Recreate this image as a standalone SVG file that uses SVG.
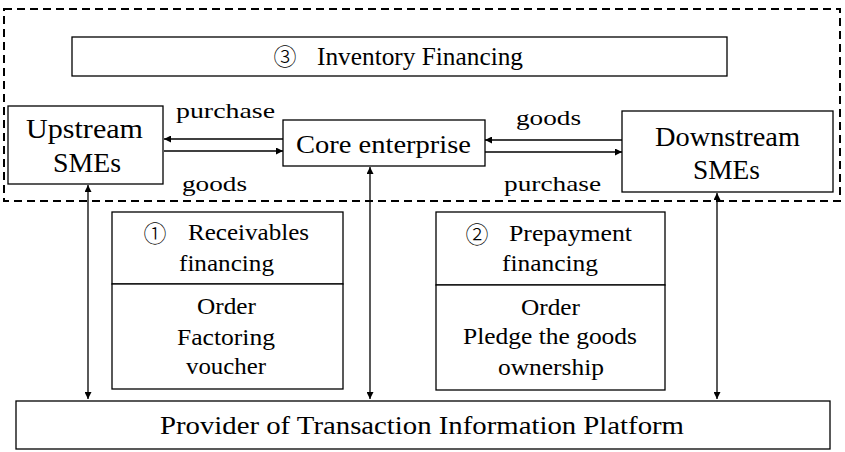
<svg xmlns="http://www.w3.org/2000/svg" width="845" height="452" viewBox="0 0 845 452" font-family="'Liberation Serif', 'Times New Roman', serif">
<style>
rect{fill:#fff;stroke:#000;stroke-width:1.3}
text{font-family:'Liberation Serif','Times New Roman',serif;font-size:26px;fill:#000}
text.s{font-size:23px}
text.l{font-size:22px}
text.big{font-size:27px}
text.num{font-family:'DejaVu Sans','Noto Sans CJK SC',sans-serif;font-size:23px;font-weight:300;text-anchor:middle}
line{stroke:#000;stroke-width:1.3}
</style>
<defs>
<marker id="ah" viewBox="0 0 10 10" refX="10" refY="5" markerWidth="9" markerHeight="7" markerUnits="userSpaceOnUse" orient="auto-start-reverse">
<path d="M0,0 L10,5 L0,10 z" fill="#000"/>
</marker>
</defs>
<rect x="0" y="0" width="845" height="452" style="stroke:none"/>
<rect id="dashbox" x="4" y="9" width="836" height="192" style="fill:none;stroke-width:2;stroke-dasharray:8,5"/>
<g id="inventory">
<rect x="72" y="37" width="655" height="39"/>
<text class="num" x="285" y="65">③</text>
<text x="317" y="65" textLength="206" lengthAdjust="spacingAndGlyphs">Inventory Financing</text>
</g>
<g id="upstream">
<rect x="8" y="106" width="155" height="78"/>
<text class="big" x="26" y="138" textLength="117" lengthAdjust="spacingAndGlyphs">Upstream</text>
<text class="big" x="53" y="172" textLength="68" lengthAdjust="spacingAndGlyphs">SMEs</text>
</g>
<g id="core">
<rect x="283" y="120" width="202" height="46"/>
<text x="296" y="153" textLength="175" lengthAdjust="spacingAndGlyphs">Core enterprise</text>
</g>
<g id="downstream">
<rect x="622" y="111" width="211" height="81"/>
<text class="big" x="655" y="146" textLength="145" lengthAdjust="spacingAndGlyphs">Downstream</text>
<text class="big" x="693" y="179" textLength="67" lengthAdjust="spacingAndGlyphs">SMEs</text>
</g>
<g id="receivables">
<rect x="112" y="212" width="231" height="72"/>
<rect x="112" y="284" width="231" height="105"/>
<text class="num" x="155" y="242">①</text>
<text class="s" x="188" y="240" textLength="121" lengthAdjust="spacingAndGlyphs">Receivables</text>
<text class="s" x="179" y="271" textLength="95" lengthAdjust="spacingAndGlyphs">financing</text>
<text class="s" x="197" y="314" textLength="59" lengthAdjust="spacingAndGlyphs">Order</text>
<text class="s" x="177" y="345" textLength="98" lengthAdjust="spacingAndGlyphs">Factoring</text>
<text class="s" x="186" y="374" textLength="80" lengthAdjust="spacingAndGlyphs">voucher</text>
</g>
<g id="prepayment">
<rect x="436" y="212" width="229" height="73"/>
<rect x="436" y="285" width="229" height="105"/>
<text class="num" x="477" y="243">②</text>
<text class="s" x="509" y="241" textLength="123" lengthAdjust="spacingAndGlyphs">Prepayment</text>
<text class="s" x="502" y="271" textLength="96" lengthAdjust="spacingAndGlyphs">financing</text>
<text class="s" x="521" y="315" textLength="59" lengthAdjust="spacingAndGlyphs">Order</text>
<text class="s" x="463" y="344" textLength="174" lengthAdjust="spacingAndGlyphs">Pledge the goods</text>
<text class="s" x="498" y="375" textLength="106" lengthAdjust="spacingAndGlyphs">ownership</text>
</g>
<g id="platform">
<rect x="16" y="401" width="814" height="48"/>
<text x="160" y="434" textLength="524" lengthAdjust="spacingAndGlyphs">Provider of Transaction Information Platform</text>
</g>
<g id="connectors">
<line x1="283" y1="139" x2="164" y2="139" marker-end="url(#ah)"/>
<line x1="164" y1="151" x2="283" y2="151" marker-end="url(#ah)"/>
<line x1="622" y1="140" x2="485" y2="140" marker-end="url(#ah)"/>
<line x1="485" y1="152" x2="622" y2="152" marker-end="url(#ah)"/>
<line x1="88" y1="185" x2="88" y2="399" marker-start="url(#ah)" marker-end="url(#ah)"/>
<line x1="370" y1="167" x2="370" y2="399" marker-start="url(#ah)" marker-end="url(#ah)"/>
<line x1="717" y1="193" x2="717" y2="399" marker-start="url(#ah)" marker-end="url(#ah)"/>
<text class="l" x="176" y="118" textLength="99" lengthAdjust="spacingAndGlyphs">purchase</text>
<text class="l" x="182" y="191" textLength="65" lengthAdjust="spacingAndGlyphs">goods</text>
<text class="l" x="516" y="125" textLength="65" lengthAdjust="spacingAndGlyphs">goods</text>
<text class="l" x="504" y="191" textLength="97" lengthAdjust="spacingAndGlyphs">purchase</text>
</g>
</svg>
